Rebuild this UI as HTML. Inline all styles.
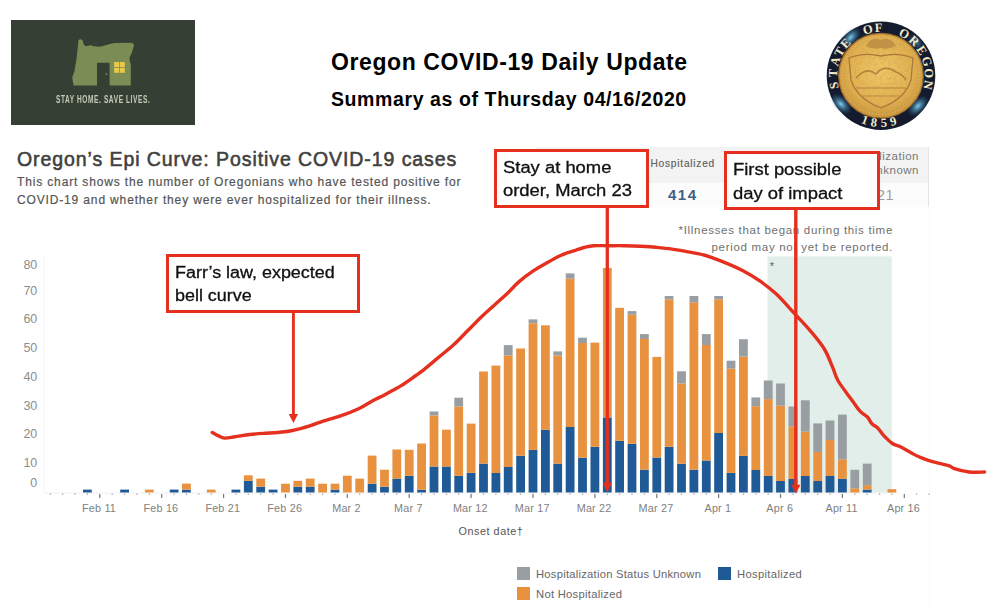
<!DOCTYPE html>
<html><head><meta charset="utf-8">
<style>
html,body{margin:0;padding:0;background:#fff;}
body{width:1000px;height:610px;position:relative;overflow:hidden;font-family:"Liberation Sans",sans-serif;}
.abs{position:absolute;white-space:nowrap;}
</style></head><body>
<!-- logo -->
<div class="abs" style="left:11px;top:20px;width:184px;height:105px;background:#353f34;"></div>
<svg class="abs" style="left:0;top:0" width="1000" height="610" viewBox="0 0 1000 610">
  <path d="M78.5,40.4 Q79.5,39 80.8,39.3 Q82.6,39.8 83,41.3 L83.5,44 Q84.5,46 86.6,46.3 Q89.5,45.2 92,45.4 Q93.5,46.2 94.8,46.3 L99.3,46.7 Q101.5,46.5 103.8,45.8 L110.1,44 Q113,43.3 115.5,43.1 L131.7,42.7 Q134.2,43.5 134,45.8 L131.7,53 L129.5,57.5 L129.9,62 L130.8,63.9 L130.8,85.5 L109.6,85.5 L109.6,62.8 L97,62.8 L97,85.5 L73.6,85.5 L72.2,77.4 L74.5,71.1 L76.7,57.5 L78.1,44 Z" fill="#7b8c55"/>
  <rect x="114.1" y="62" width="5" height="5" fill="#e8c84a"/>
  <rect x="119.8" y="62" width="5" height="5" fill="#e8c84a"/>
  <rect x="114.1" y="67.8" width="5" height="5" fill="#e8c84a"/>
  <rect x="119.8" y="67.8" width="5" height="5" fill="#e8c84a"/>
  <circle cx="106.5" cy="74.2" r="0.9" fill="#7b8c55"/>
</svg>
<div class="abs" style="left:56.3px;top:93px;font-size:11px;font-weight:bold;color:#c5cdb9;transform-origin:0 0;transform:scaleX(0.595);letter-spacing:1px;">STAY HOME. SAVE LIVES.</div>

<!-- titles -->
<div class="abs" style="left:331px;top:49px;font-size:23px;font-weight:bold;color:#000;letter-spacing:0.6px;">Oregon COVID-19 Daily Update</div>
<div class="abs" style="left:331px;top:87.5px;font-size:19.5px;font-weight:bold;color:#000;letter-spacing:0.6px;">Summary as of Thursday 04/16/2020</div>

<!-- seal -->
<svg class="abs" style="left:0;top:0" width="1000" height="610" viewBox="0 0 1000 610">
  <defs>
    <radialGradient id="gold" cx="50%" cy="45%" r="55%">
      <stop offset="0%" stop-color="#efc766"/>
      <stop offset="70%" stop-color="#e2b04e"/>
      <stop offset="100%" stop-color="#c8923a"/>
    </radialGradient>
    <filter id="tex" x="0" y="0" width="100%" height="100%">
      <feTurbulence type="fractalNoise" baseFrequency="0.35" numOctaves="2" seed="3" result="n"/>
      <feColorMatrix in="n" type="matrix" values="0 0 0 0 0.54  0 0 0 0 0.35  0 0 0 0 0.12  0 0 0 -2.2 1.25" result="m"/>
      <feComposite in="m" in2="SourceGraphic" operator="in"/>
    </filter>
    <radialGradient id="hl" cx="50%" cy="50%" r="50%">
      <stop offset="0%" stop-color="#7fd0f0" stop-opacity="1"/>
      <stop offset="100%" stop-color="#2a6d96" stop-opacity="0"/>
    </radialGradient>
  </defs>
  <circle cx="881" cy="75.7" r="54.3" fill="#151b2e"/>
  <ellipse cx="850.6" cy="37.5" rx="13" ry="7.5" transform="rotate(-45 850.6 37.5)" fill="url(#hl)"/>
  <ellipse cx="841" cy="104" rx="13" ry="7.5" transform="rotate(45 841 104)" fill="url(#hl)"/>
  <ellipse cx="918" cy="106" rx="13" ry="7.5" transform="rotate(-45 918 106)" fill="url(#hl)"/>
  <ellipse cx="916" cy="42" rx="10" ry="6" transform="rotate(45 916 42)" fill="url(#hl)" opacity="0.6"/>
  <circle cx="881" cy="75.7" r="42.3" fill="url(#gold)"/>
  <circle cx="881" cy="75.7" r="42.3" fill="#8a5a20" filter="url(#tex)" opacity="0.55"/>
  <circle cx="881" cy="75.7" r="42.3" fill="none" stroke="#9c6c2c" stroke-width="1.2"/>
  <circle cx="881" cy="75.7" r="39" fill="none" stroke="#f2d27a" stroke-width="1" stroke-dasharray="0.9 2.4" opacity="0.8"/>
  <path d="M849,58 Q864,52 881,56 Q898,52 913,58 L911,80 Q905,99 881,108 Q857,99 851,80 Z" fill="none" stroke="#a87a3a" stroke-width="1.3"/>
  <path d="M866,46 Q872,36 881,40 Q890,36 896,46 Q888,50 881,48 Q874,50 866,46 Z" fill="#b98a42" opacity="0.8"/>
  <path d="M856,78 Q866,66 876,74 Q884,64 896,72 Q902,74 906,80" fill="none" stroke="#b3843e" stroke-width="1.6"/>
  <path d="M856,88 L906,88" stroke="#b3843e" stroke-width="1.2"/>
  <path d="M862,96 L900,96" stroke="#b98a42" stroke-width="1"/>
  <g font-family="Liberation Serif" font-weight="bold" font-size="12.5" fill="#f3ebc8" text-anchor="middle">
<text x="0" y="4.4" transform="translate(833.7,85.5) rotate(-101.7)">S</text>
<text x="0" y="4.4" transform="translate(832.8,73.2) rotate(-87.0)">T</text>
<text x="0" y="4.4" transform="translate(835.0,61.1) rotate(-72.4)">A</text>
<text x="0" y="4.4" transform="translate(839.2,51.6) rotate(-60.0)">T</text>
<text x="0" y="4.4" transform="translate(845.4,43.1) rotate(-47.5)">E</text>
<text x="0" y="4.4" transform="translate(867.7,29.3) rotate(-16.0)">O</text>
<text x="0" y="4.4" transform="translate(878.5,27.5) rotate(-3.0)">F</text>
<text x="0" y="4.4" transform="translate(904.4,33.5) rotate(29.0)">O</text>
<text x="0" y="4.4" transform="translate(914.2,40.7) rotate(43.5)">R</text>
<text x="0" y="4.4" transform="translate(922.0,50.1) rotate(58.0)">E</text>
<text x="0" y="4.4" transform="translate(927.1,61.2) rotate(72.5)">G</text>
<text x="0" y="4.4" transform="translate(929.2,73.2) rotate(87.0)">O</text>
<text x="0" y="4.4" transform="translate(928.4,84.9) rotate(101.0)">N</text>
<text x="0" y="4.4" transform="translate(865.0,119.7) rotate(20.0)">1</text>
<text x="0" y="4.4" transform="translate(874.1,122.0) rotate(8.5)">8</text>
<text x="0" y="4.4" transform="translate(883.9,122.4) rotate(-3.5)">5</text>
<text x="0" y="4.4" transform="translate(893.1,120.9) rotate(-15.0)">9</text>
  </g>
</svg>

<!-- chart title -->
<div class="abs" style="left:17px;top:148px;font-size:19.5px;font-weight:normal;color:#404040;-webkit-text-stroke:0.55px #404040;letter-spacing:0.92px;">Oregon’s Epi Curve: Positive COVID-19 cases</div>
<div class="abs" style="left:17px;top:174px;font-size:12px;color:#555;line-height:17.5px;letter-spacing:0.85px;-webkit-text-stroke:0.2px #555;">This chart shows the number of Oregonians who have tested positive for<br>COVID-19 and whether they were ever hospitalized for their illness.</div>

<!-- table -->
<div class="abs" style="left:536px;top:147px;width:393px;height:35.5px;background:#f3f3f3;"></div>
<div class="abs" style="left:536px;top:182.5px;width:393px;height:24.5px;background:#fcfcfc;"></div>
<div class="abs" style="left:928px;top:147px;width:1px;height:60px;background:#e4e4e4;"></div>
<div class="abs" style="left:650.5px;top:157.5px;font-size:10.2px;color:#5f5f5f;letter-spacing:0.75px;-webkit-text-stroke:0.15px #5f5f5f;">Hospitalized</div>
<div class="abs" style="left:668px;top:186px;font-size:15px;font-weight:bold;color:#3d6185;letter-spacing:1.5px;">414</div>
<div class="abs" style="left:760px;top:149px;width:159px;text-align:right;font-size:11.5px;color:#777;line-height:14px;letter-spacing:0.5px;">Hospitalization<br>Status Unknown</div>
<div class="abs" style="left:877px;top:187px;font-size:14.5px;color:#9c9c9c;letter-spacing:0.5px;">21</div>

<div class="abs" style="left:590px;top:222px;font-size:11.5px;color:#6f6f6f;line-height:16.8px;text-align:right;width:303px;letter-spacing:0.7px;">*Illnesses that began during this time<br><span style="letter-spacing:0.7px">period may not yet be reported.</span></div>

<svg class="abs" style="left:0;top:0" width="1000" height="610" viewBox="0 0 1000 610">
  <rect x="767.5" y="256.4" width="124.3" height="236.4" fill="#e2eee9"/>
  <text x="770" y="270" font-size="10" fill="#555" font-family="Liberation Sans">*</text>
  <line x1="44" y1="255" x2="44" y2="493" stroke="#f5f5f5" stroke-width="1"/>
  <line x1="929.5" y1="210" x2="929.5" y2="610" stroke="#fafafa" stroke-width="1"/>
  <line x1="44" y1="493" x2="900" y2="493" stroke="#f0f0f0" stroke-width="1"/>
  <g>
<rect x="83" y="489.6" width="8.8" height="2.9" fill="#1f5a96"/>
<rect x="120.2" y="489.6" width="8.8" height="2.9" fill="#1f5a96"/>
<rect x="144.9" y="489.6" width="8.8" height="2.9" fill="#e8913f"/>
<rect x="169.7" y="489.6" width="8.8" height="2.9" fill="#1f5a96"/>
<rect x="182" y="489.6" width="8.8" height="2.9" fill="#1f5a96"/>
<rect x="182" y="483.6" width="8.8" height="6" fill="#e8913f"/>
<rect x="206.8" y="489.6" width="8.8" height="2.9" fill="#e8913f"/>
<rect x="231.5" y="489.6" width="8.8" height="2.9" fill="#1f5a96"/>
<rect x="243.9" y="480.8" width="8.8" height="11.7" fill="#1f5a96"/>
<rect x="243.9" y="475.3" width="8.8" height="5.5" fill="#e8913f"/>
<rect x="256.3" y="486.7" width="8.8" height="5.8" fill="#1f5a96"/>
<rect x="256.3" y="478.6" width="8.8" height="8.1" fill="#e8913f"/>
<rect x="268.7" y="489.6" width="8.8" height="2.9" fill="#1f5a96"/>
<rect x="281.1" y="483.7" width="8.8" height="8.8" fill="#e8913f"/>
<rect x="293.4" y="486.7" width="8.8" height="5.8" fill="#1f5a96"/>
<rect x="293.4" y="480.8" width="8.8" height="5.9" fill="#e8913f"/>
<rect x="305.8" y="486.7" width="8.8" height="5.8" fill="#1f5a96"/>
<rect x="305.8" y="478.6" width="8.8" height="8.1" fill="#e8913f"/>
<rect x="318.2" y="483.7" width="8.8" height="8.8" fill="#e8913f"/>
<rect x="330.6" y="489.6" width="8.8" height="2.9" fill="#1f5a96"/>
<rect x="330.6" y="483.7" width="8.8" height="5.9" fill="#e8913f"/>
<rect x="342.9" y="475.7" width="8.8" height="16.8" fill="#e8913f"/>
<rect x="355.3" y="478.6" width="8.8" height="13.9" fill="#e8913f"/>
<rect x="367.7" y="483.7" width="8.8" height="8.8" fill="#1f5a96"/>
<rect x="367.7" y="455.6" width="8.8" height="28.1" fill="#e8913f"/>
<rect x="380.1" y="486.7" width="8.8" height="5.8" fill="#1f5a96"/>
<rect x="380.1" y="469.7" width="8.8" height="17" fill="#e8913f"/>
<rect x="392.4" y="478.6" width="8.8" height="13.9" fill="#1f5a96"/>
<rect x="392.4" y="449.5" width="8.8" height="29.1" fill="#e8913f"/>
<rect x="404.8" y="475.8" width="8.8" height="16.7" fill="#1f5a96"/>
<rect x="404.8" y="449.8" width="8.8" height="26" fill="#e8913f"/>
<rect x="417.2" y="489.7" width="8.8" height="2.8" fill="#1f5a96"/>
<rect x="417.2" y="443.5" width="8.8" height="46.2" fill="#e8913f"/>
<rect x="429.6" y="466.5" width="8.8" height="26" fill="#1f5a96"/>
<rect x="429.6" y="415.4" width="8.8" height="51.1" fill="#e8913f"/>
<rect x="429.6" y="411.5" width="8.8" height="3.9" fill="#989ea2"/>
<rect x="442" y="466.5" width="8.8" height="26" fill="#1f5a96"/>
<rect x="442" y="429.7" width="8.8" height="36.8" fill="#e8913f"/>
<rect x="454.3" y="475.8" width="8.8" height="16.7" fill="#1f5a96"/>
<rect x="454.3" y="406.5" width="8.8" height="69.3" fill="#e8913f"/>
<rect x="454.3" y="397.7" width="8.8" height="8.8" fill="#989ea2"/>
<rect x="466.7" y="472.8" width="8.8" height="19.7" fill="#1f5a96"/>
<rect x="466.7" y="423.6" width="8.8" height="49.2" fill="#e8913f"/>
<rect x="479.1" y="463.6" width="8.8" height="28.9" fill="#1f5a96"/>
<rect x="479.1" y="371.5" width="8.8" height="92.1" fill="#e8913f"/>
<rect x="491.5" y="473" width="8.8" height="19.5" fill="#1f5a96"/>
<rect x="491.5" y="365.6" width="8.8" height="107.4" fill="#e8913f"/>
<rect x="503.8" y="467" width="8.8" height="25.5" fill="#1f5a96"/>
<rect x="503.8" y="355.4" width="8.8" height="111.6" fill="#e8913f"/>
<rect x="503.8" y="345.1" width="8.8" height="10.3" fill="#989ea2"/>
<rect x="516.2" y="455.7" width="8.8" height="36.8" fill="#1f5a96"/>
<rect x="516.2" y="348.5" width="8.8" height="107.2" fill="#e8913f"/>
<rect x="528.6" y="449.9" width="8.8" height="42.6" fill="#1f5a96"/>
<rect x="528.6" y="323.3" width="8.8" height="126.6" fill="#e8913f"/>
<rect x="528.6" y="319.4" width="8.8" height="3.9" fill="#989ea2"/>
<rect x="541" y="429.7" width="8.8" height="62.8" fill="#1f5a96"/>
<rect x="541" y="325.3" width="8.8" height="104.4" fill="#e8913f"/>
<rect x="553.3" y="463.6" width="8.8" height="28.9" fill="#1f5a96"/>
<rect x="553.3" y="355.4" width="8.8" height="108.2" fill="#e8913f"/>
<rect x="553.3" y="351.4" width="8.8" height="4" fill="#989ea2"/>
<rect x="565.7" y="427" width="8.8" height="65.5" fill="#1f5a96"/>
<rect x="565.7" y="278.7" width="8.8" height="148.3" fill="#e8913f"/>
<rect x="565.7" y="273.4" width="8.8" height="5.3" fill="#989ea2"/>
<rect x="578.1" y="457.7" width="8.8" height="34.8" fill="#1f5a96"/>
<rect x="578.1" y="343" width="8.8" height="114.7" fill="#e8913f"/>
<rect x="578.1" y="337.7" width="8.8" height="5.3" fill="#989ea2"/>
<rect x="590.5" y="446.8" width="8.8" height="45.7" fill="#1f5a96"/>
<rect x="590.5" y="342.6" width="8.8" height="104.2" fill="#e8913f"/>
<rect x="602.9" y="417.4" width="8.8" height="75.1" fill="#1f5a96"/>
<rect x="602.9" y="267.9" width="8.8" height="149.5" fill="#e8913f"/>
<rect x="615.2" y="440.8" width="8.8" height="51.7" fill="#1f5a96"/>
<rect x="615.2" y="307.8" width="8.8" height="133" fill="#e8913f"/>
<rect x="627.6" y="443.8" width="8.8" height="48.7" fill="#1f5a96"/>
<rect x="627.6" y="314.7" width="8.8" height="129.1" fill="#e8913f"/>
<rect x="627.6" y="311.1" width="8.8" height="3.6" fill="#989ea2"/>
<rect x="640" y="469.7" width="8.8" height="22.8" fill="#1f5a96"/>
<rect x="640" y="339" width="8.8" height="130.7" fill="#e8913f"/>
<rect x="640" y="334.1" width="8.8" height="4.9" fill="#989ea2"/>
<rect x="652.4" y="457.5" width="8.8" height="35" fill="#1f5a96"/>
<rect x="652.4" y="356.9" width="8.8" height="100.6" fill="#e8913f"/>
<rect x="664.7" y="446.8" width="8.8" height="45.7" fill="#1f5a96"/>
<rect x="664.7" y="299.3" width="8.8" height="147.5" fill="#e8913f"/>
<rect x="664.7" y="296" width="8.8" height="3.3" fill="#989ea2"/>
<rect x="677.1" y="463.7" width="8.8" height="28.8" fill="#1f5a96"/>
<rect x="677.1" y="383.4" width="8.8" height="80.3" fill="#e8913f"/>
<rect x="677.1" y="371.3" width="8.8" height="12.1" fill="#989ea2"/>
<rect x="689.5" y="469.7" width="8.8" height="22.8" fill="#1f5a96"/>
<rect x="689.5" y="302.3" width="8.8" height="167.4" fill="#e8913f"/>
<rect x="689.5" y="296" width="8.8" height="6.3" fill="#989ea2"/>
<rect x="701.9" y="460.5" width="8.8" height="32" fill="#1f5a96"/>
<rect x="701.9" y="345" width="8.8" height="115.5" fill="#e8913f"/>
<rect x="701.9" y="334.1" width="8.8" height="10.9" fill="#989ea2"/>
<rect x="714.2" y="433" width="8.8" height="59.5" fill="#1f5a96"/>
<rect x="714.2" y="299.3" width="8.8" height="133.7" fill="#e8913f"/>
<rect x="714.2" y="296" width="8.8" height="3.3" fill="#989ea2"/>
<rect x="726.6" y="472.9" width="8.8" height="19.6" fill="#1f5a96"/>
<rect x="726.6" y="368.6" width="8.8" height="104.3" fill="#e8913f"/>
<rect x="726.6" y="360.7" width="8.8" height="7.9" fill="#989ea2"/>
<rect x="739" y="455.9" width="8.8" height="36.6" fill="#1f5a96"/>
<rect x="739" y="356.6" width="8.8" height="99.3" fill="#e8913f"/>
<rect x="739" y="339.2" width="8.8" height="17.4" fill="#989ea2"/>
<rect x="751.4" y="470" width="8.8" height="22.5" fill="#1f5a96"/>
<rect x="751.4" y="406.2" width="8.8" height="63.8" fill="#e8913f"/>
<rect x="751.4" y="397.4" width="8.8" height="8.8" fill="#989ea2"/>
<rect x="763.8" y="475.9" width="8.8" height="16.6" fill="#1f5a96"/>
<rect x="763.8" y="399.1" width="8.8" height="76.8" fill="#e8913f"/>
<rect x="763.8" y="380.5" width="8.8" height="18.6" fill="#989ea2"/>
<rect x="776.1" y="481" width="8.8" height="11.5" fill="#1f5a96"/>
<rect x="776.1" y="405.6" width="8.8" height="75.4" fill="#e8913f"/>
<rect x="776.1" y="383.5" width="8.8" height="22.1" fill="#989ea2"/>
<rect x="788.5" y="479" width="8.8" height="13.5" fill="#1f5a96"/>
<rect x="788.5" y="426.3" width="8.8" height="52.7" fill="#e8913f"/>
<rect x="788.5" y="406.5" width="8.8" height="19.8" fill="#989ea2"/>
<rect x="800.9" y="476" width="8.8" height="16.5" fill="#1f5a96"/>
<rect x="800.9" y="431.6" width="8.8" height="44.4" fill="#e8913f"/>
<rect x="800.9" y="400.3" width="8.8" height="31.3" fill="#989ea2"/>
<rect x="813.3" y="481" width="8.8" height="11.5" fill="#1f5a96"/>
<rect x="813.3" y="452" width="8.8" height="29" fill="#e8913f"/>
<rect x="813.3" y="423.4" width="8.8" height="28.6" fill="#989ea2"/>
<rect x="825.6" y="476" width="8.8" height="16.5" fill="#1f5a96"/>
<rect x="825.6" y="440" width="8.8" height="36" fill="#e8913f"/>
<rect x="825.6" y="420.5" width="8.8" height="19.5" fill="#989ea2"/>
<rect x="838" y="478.8" width="8.8" height="13.7" fill="#1f5a96"/>
<rect x="838" y="459.4" width="8.8" height="19.4" fill="#e8913f"/>
<rect x="838" y="414.6" width="8.8" height="44.8" fill="#989ea2"/>
<rect x="850.4" y="488.3" width="8.8" height="4.2" fill="#e8913f"/>
<rect x="850.4" y="469.8" width="8.8" height="18.5" fill="#989ea2"/>
<rect x="862.8" y="489.6" width="8.8" height="2.9" fill="#1f5a96"/>
<rect x="862.8" y="485.2" width="8.8" height="4.4" fill="#e8913f"/>
<rect x="862.8" y="463.6" width="8.8" height="21.6" fill="#989ea2"/>
<rect x="887.5" y="489.2" width="8.8" height="3.3" fill="#e8913f"/>
  </g>
  <g>
<rect x="49.7" y="493.6" width="1.2" height="1.2" fill="#9a9a9a"/>
<rect x="62.1" y="493.6" width="1.2" height="1.2" fill="#9a9a9a"/>
<rect x="74.4" y="493.6" width="1.2" height="1.2" fill="#9a9a9a"/>
<rect x="86.8" y="493.6" width="1.2" height="1.2" fill="#9a9a9a"/>
<rect x="99.2" y="494" width="1.2" height="4" fill="#777"/>
<rect x="111.6" y="493.6" width="1.2" height="1.2" fill="#9a9a9a"/>
<rect x="124" y="493.6" width="1.2" height="1.2" fill="#9a9a9a"/>
<rect x="136.3" y="493.6" width="1.2" height="1.2" fill="#9a9a9a"/>
<rect x="148.7" y="493.6" width="1.2" height="1.2" fill="#9a9a9a"/>
<rect x="161.1" y="494" width="1.2" height="4" fill="#777"/>
<rect x="173.5" y="493.6" width="1.2" height="1.2" fill="#9a9a9a"/>
<rect x="185.8" y="493.6" width="1.2" height="1.2" fill="#9a9a9a"/>
<rect x="198.2" y="493.6" width="1.2" height="1.2" fill="#9a9a9a"/>
<rect x="210.6" y="493.6" width="1.2" height="1.2" fill="#9a9a9a"/>
<rect x="223" y="494" width="1.2" height="4" fill="#777"/>
<rect x="235.3" y="493.6" width="1.2" height="1.2" fill="#9a9a9a"/>
<rect x="247.7" y="493.6" width="1.2" height="1.2" fill="#9a9a9a"/>
<rect x="260.1" y="493.6" width="1.2" height="1.2" fill="#9a9a9a"/>
<rect x="272.5" y="493.6" width="1.2" height="1.2" fill="#9a9a9a"/>
<rect x="284.9" y="494" width="1.2" height="4" fill="#777"/>
<rect x="297.2" y="493.6" width="1.2" height="1.2" fill="#9a9a9a"/>
<rect x="309.6" y="493.6" width="1.2" height="1.2" fill="#9a9a9a"/>
<rect x="322" y="493.6" width="1.2" height="1.2" fill="#9a9a9a"/>
<rect x="334.4" y="493.6" width="1.2" height="1.2" fill="#9a9a9a"/>
<rect x="346.7" y="494" width="1.2" height="4" fill="#777"/>
<rect x="359.1" y="493.6" width="1.2" height="1.2" fill="#9a9a9a"/>
<rect x="371.5" y="493.6" width="1.2" height="1.2" fill="#9a9a9a"/>
<rect x="383.9" y="493.6" width="1.2" height="1.2" fill="#9a9a9a"/>
<rect x="396.2" y="493.6" width="1.2" height="1.2" fill="#9a9a9a"/>
<rect x="408.6" y="494" width="1.2" height="4" fill="#777"/>
<rect x="421" y="493.6" width="1.2" height="1.2" fill="#9a9a9a"/>
<rect x="433.4" y="493.6" width="1.2" height="1.2" fill="#9a9a9a"/>
<rect x="445.8" y="493.6" width="1.2" height="1.2" fill="#9a9a9a"/>
<rect x="458.1" y="493.6" width="1.2" height="1.2" fill="#9a9a9a"/>
<rect x="470.5" y="494" width="1.2" height="4" fill="#777"/>
<rect x="482.9" y="493.6" width="1.2" height="1.2" fill="#9a9a9a"/>
<rect x="495.3" y="493.6" width="1.2" height="1.2" fill="#9a9a9a"/>
<rect x="507.6" y="493.6" width="1.2" height="1.2" fill="#9a9a9a"/>
<rect x="520" y="493.6" width="1.2" height="1.2" fill="#9a9a9a"/>
<rect x="532.4" y="494" width="1.2" height="4" fill="#777"/>
<rect x="544.8" y="493.6" width="1.2" height="1.2" fill="#9a9a9a"/>
<rect x="557.1" y="493.6" width="1.2" height="1.2" fill="#9a9a9a"/>
<rect x="569.5" y="493.6" width="1.2" height="1.2" fill="#9a9a9a"/>
<rect x="581.9" y="493.6" width="1.2" height="1.2" fill="#9a9a9a"/>
<rect x="594.3" y="494" width="1.2" height="4" fill="#777"/>
<rect x="606.7" y="493.6" width="1.2" height="1.2" fill="#9a9a9a"/>
<rect x="619" y="493.6" width="1.2" height="1.2" fill="#9a9a9a"/>
<rect x="631.4" y="493.6" width="1.2" height="1.2" fill="#9a9a9a"/>
<rect x="643.8" y="493.6" width="1.2" height="1.2" fill="#9a9a9a"/>
<rect x="656.2" y="494" width="1.2" height="4" fill="#777"/>
<rect x="668.5" y="493.6" width="1.2" height="1.2" fill="#9a9a9a"/>
<rect x="680.9" y="493.6" width="1.2" height="1.2" fill="#9a9a9a"/>
<rect x="693.3" y="493.6" width="1.2" height="1.2" fill="#9a9a9a"/>
<rect x="705.7" y="493.6" width="1.2" height="1.2" fill="#9a9a9a"/>
<rect x="718" y="494" width="1.2" height="4" fill="#777"/>
<rect x="730.4" y="493.6" width="1.2" height="1.2" fill="#9a9a9a"/>
<rect x="742.8" y="493.6" width="1.2" height="1.2" fill="#9a9a9a"/>
<rect x="755.2" y="493.6" width="1.2" height="1.2" fill="#9a9a9a"/>
<rect x="767.6" y="493.6" width="1.2" height="1.2" fill="#9a9a9a"/>
<rect x="779.9" y="494" width="1.2" height="4" fill="#777"/>
<rect x="792.3" y="493.6" width="1.2" height="1.2" fill="#9a9a9a"/>
<rect x="804.7" y="493.6" width="1.2" height="1.2" fill="#9a9a9a"/>
<rect x="817.1" y="493.6" width="1.2" height="1.2" fill="#9a9a9a"/>
<rect x="829.4" y="493.6" width="1.2" height="1.2" fill="#9a9a9a"/>
<rect x="841.8" y="494" width="1.2" height="4" fill="#777"/>
<rect x="854.2" y="493.6" width="1.2" height="1.2" fill="#9a9a9a"/>
<rect x="866.6" y="493.6" width="1.2" height="1.2" fill="#9a9a9a"/>
<rect x="879" y="493.6" width="1.2" height="1.2" fill="#9a9a9a"/>
<rect x="891.3" y="493.6" width="1.2" height="1.2" fill="#9a9a9a"/>
<rect x="903.7" y="494" width="1.2" height="4" fill="#777"/>
<rect x="916.1" y="493.6" width="1.2" height="1.2" fill="#9a9a9a"/>
<rect x="928.5" y="493.6" width="1.2" height="1.2" fill="#9a9a9a"/>
  </g>
  <g font-family="Liberation Sans" font-size="10.8" fill="#808080" letter-spacing="0.2">
<text x="99" y="512" text-anchor="middle">Feb 11</text>
<text x="160.9" y="512" text-anchor="middle">Feb 16</text>
<text x="222.8" y="512" text-anchor="middle">Feb 21</text>
<text x="284.7" y="512" text-anchor="middle">Feb 26</text>
<text x="346.5" y="512" text-anchor="middle">Mar 2</text>
<text x="408.4" y="512" text-anchor="middle">Mar 7</text>
<text x="470.3" y="512" text-anchor="middle">Mar 12</text>
<text x="532.2" y="512" text-anchor="middle">Mar 17</text>
<text x="594.1" y="512" text-anchor="middle">Mar 22</text>
<text x="656" y="512" text-anchor="middle">Mar 27</text>
<text x="717.9" y="512" text-anchor="middle">Apr 1</text>
<text x="779.7" y="512" text-anchor="middle">Apr 6</text>
<text x="841.6" y="512" text-anchor="middle">Apr 11</text>
<text x="903.5" y="512" text-anchor="middle">Apr 16</text>
  </g>
  <g font-family="Liberation Sans" font-size="12.5" fill="#8d8d8d">
<text x="37.3" y="269.4" text-anchor="end">80</text>
<text x="37.3" y="294.8" text-anchor="end">70</text>
<text x="37.3" y="322.7" text-anchor="end">60</text>
<text x="37.3" y="351.8" text-anchor="end">50</text>
<text x="37.3" y="380.8" text-anchor="end">40</text>
<text x="37.3" y="410.3" text-anchor="end">30</text>
<text x="37.3" y="438.2" text-anchor="end">20</text>
<text x="37.3" y="466.8" text-anchor="end">10</text>
<text x="37.3" y="486.6" text-anchor="end">0</text>
  </g>
  <text x="458.5" y="535.2" font-family="Liberation Sans" font-size="10.8" fill="#555" letter-spacing="0.55">Onset date†</text>
  <!-- legend -->
  <rect x="517" y="567" width="13" height="13" fill="#989ea2"/>
  <text x="536" y="577.5" font-family="Liberation Sans" font-size="11.2" fill="#666" letter-spacing="0.26">Hospitalization Status Unknown</text>
  <rect x="718" y="567" width="13" height="13" fill="#1f5a96"/>
  <text x="737" y="577.5" font-family="Liberation Sans" font-size="11.2" fill="#666" letter-spacing="0.35">Hospitalized</text>
  <rect x="517" y="587" width="13" height="13" fill="#e8913f"/>
  <text x="536" y="597.5" font-family="Liberation Sans" font-size="11.2" fill="#666" letter-spacing="0.3">Not Hospitalized</text>

  <!-- curve -->
  <path d="M212.2,432.4 C213.2,432.9 215.9,434.7 218.0,435.6 C220.1,436.6 222.0,437.9 224.8,438.1 C227.6,438.3 230.8,437.4 235.0,436.8 C239.2,436.2 245.0,435.1 250.0,434.5 C255.0,433.9 260.3,433.6 265.0,433.3 C269.7,433.0 273.4,433.0 278.0,432.5 C282.6,432.0 287.1,431.6 292.5,430.5 C297.9,429.4 305.4,427.2 310.5,425.6 C315.6,424.0 318.0,422.8 323.1,421.1 C328.2,419.5 335.2,417.8 341.2,415.7 C347.2,413.6 354.1,410.9 359.2,408.5 C364.3,406.1 367.6,403.5 371.8,401.2 C376.0,398.9 379.7,397.4 384.5,394.9 C389.3,392.3 395.6,389.0 400.7,385.9 C405.8,382.8 411.2,378.8 415.1,376.0 C419.0,373.2 420.4,372.4 424.3,369.3 C428.2,366.2 433.8,361.3 438.5,357.4 C443.2,353.4 448.0,350.0 452.8,345.6 C457.6,341.2 462.4,336.1 467.1,331.3 C471.9,326.5 476.6,321.6 481.3,317.0 C486.1,312.4 491.2,308.0 495.6,304.0 C500.0,300.0 503.5,297.0 507.5,293.2 C511.5,289.4 515.0,285.1 519.4,281.4 C523.8,277.6 528.9,273.9 533.6,270.7 C538.4,267.5 543.5,264.8 547.9,262.3 C552.3,259.8 556.6,257.4 560.0,255.8 C563.4,254.2 565.3,253.5 568.0,252.6 C570.7,251.7 573.3,251.0 576.0,250.2 C578.7,249.3 581.1,248.2 584.0,247.5 C586.9,246.8 589.6,246.0 593.6,245.7 C597.6,245.4 602.9,245.7 608.0,245.7 C613.1,245.7 618.7,245.6 624.0,245.7 C629.3,245.8 634.7,245.9 640.0,246.2 C645.3,246.5 650.7,246.8 656.0,247.3 C661.3,247.8 666.7,248.3 672.0,249.1 C677.3,249.8 682.7,250.8 688.0,251.8 C693.3,252.8 698.7,253.5 704.0,255.0 C709.3,256.5 713.4,258.0 720.0,260.6 C726.6,263.2 736.7,267.5 743.4,270.9 C750.1,274.3 754.6,277.2 760.2,281.2 C765.8,285.1 771.3,289.4 776.9,294.6 C782.5,299.9 788.0,306.7 793.6,312.7 C799.2,318.7 805.2,324.8 810.3,330.8 C815.4,336.9 820.6,342.9 824.3,349.0 C828.0,355.1 830.3,361.8 832.6,367.1 C834.9,372.4 834.9,375.4 838.2,381.0 C841.5,386.6 848.6,395.5 852.2,400.5 C855.8,405.5 857.5,408.4 860.0,411.1 C862.5,413.9 865.4,414.9 867.4,417.0 C869.4,419.1 870.1,421.8 871.8,423.6 C873.5,425.4 875.7,426.0 877.7,428.0 C879.7,430.0 881.2,432.8 883.6,435.4 C886.0,438.0 889.5,441.5 892.4,443.5 C895.3,445.5 898.1,445.6 901.3,447.2 C904.5,448.8 908.6,451.5 911.6,453.1 C914.6,454.7 915.8,455.5 919.0,456.8 C922.2,458.1 925.9,459.7 930.8,461.2 C935.7,462.7 944.6,464.4 948.5,465.6 C952.4,466.8 951.0,467.5 954.4,468.6 C957.8,469.7 964.1,471.4 969.1,472.0 C974.1,472.6 982.0,472.0 984.6,472.0" fill="none" stroke="#e5301f" stroke-width="3.4" stroke-linecap="round" stroke-linejoin="round"/>
  <!-- arrows -->
  <line x1="293.4" y1="311" x2="293.4" y2="415" stroke="#e5301f" stroke-width="2.9"/>
  <path d="M288.7,413.9 L298.1,413.9 L293.4,422.9 Z" fill="#e5301f"/>
  <line x1="607.3" y1="206" x2="607.3" y2="484" stroke="#e5301f" stroke-width="3.3"/>
  <path d="M602.6,482.8 L612,482.8 L607.3,492.2 Z" fill="#e5301f"/>
  <line x1="795.8" y1="209" x2="795.8" y2="486" stroke="#e5301f" stroke-width="3.4"/>
  <path d="M791.1,484.7 L800.5,484.7 L795.8,493.6 Z" fill="#e5301f"/>
</svg>

<!-- annotation boxes -->
<div class="abs" style="left:165.6px;top:254.2px;width:188px;height:52.5px;border:3px solid #e5301f;background:#fff;"></div>
<div class="abs" style="left:175px;top:262px;font-size:16px;color:#111;line-height:22.8px;transform-origin:0 0;transform:scaleX(1.12);-webkit-text-stroke:0.3px #111;">Farr’s law, expected<br>bell curve</div>
<div class="abs" style="left:494.3px;top:149px;width:148.7px;height:52.5px;border:3px solid #e5301f;background:#fff;"></div>
<div class="abs" style="left:503px;top:155.5px;font-size:16px;color:#111;line-height:23.8px;transform-origin:0 0;transform:scaleX(1.15);-webkit-text-stroke:0.3px #111;">Stay at home<br>order, March 23</div>
<div class="abs" style="left:724px;top:151px;width:149.5px;height:53px;border:3px solid #e5301f;background:#fff;"></div>
<div class="abs" style="left:733px;top:158px;font-size:16px;color:#111;line-height:23.7px;transform-origin:0 0;transform:scaleX(1.15);-webkit-text-stroke:0.3px #111;">First possible<br>day of impact</div>
</body></html>
